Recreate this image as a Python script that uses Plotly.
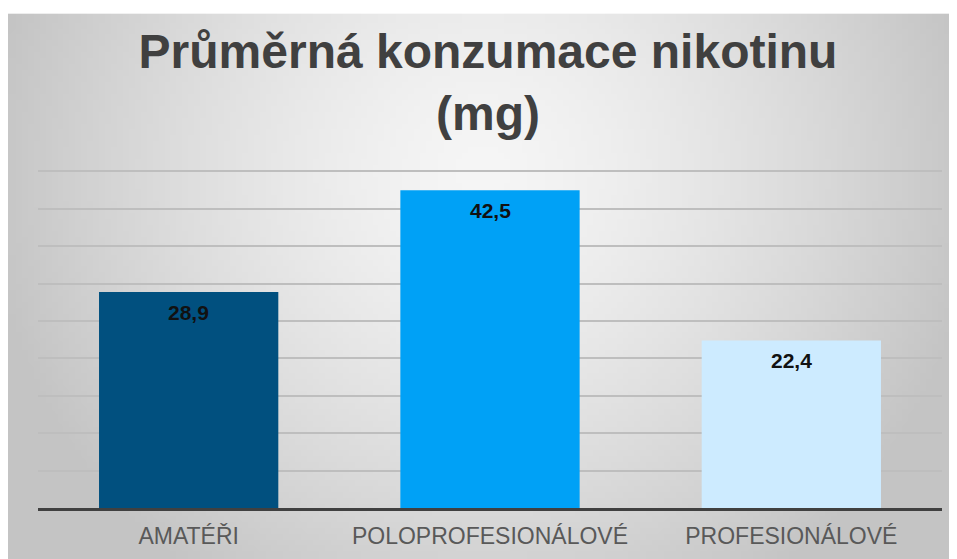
"""Bar chart: average nicotine consumption by player group."""

from __future__ import annotations

import base64
import struct
import zlib

import numpy as np
import plotly.graph_objects as go

categories = ["AMATÉŘI", "POLOPROFESIONÁLOVÉ", "PROFESIONÁLOVÉ"]
values = [28.9, 42.5, 22.4]
value_labels = ["28,9", "42,5", "22,4"]
bar_colors = ["#01507F", "#00A1F6", "#CDEBFF"]

# the page body adds an 8px margin, so the figure is 8px smaller
W, H = 949, 551
Y_MAX = 46.0
PX_PER_UNIT = (500 - 163) / 45
PLOT_L, PLOT_R, PLOT_B = 30, 934, 500
PLOT_T = PLOT_B - Y_MAX * PX_PER_UNIT
BOX_X0, BOX_Y0 = -1, 5


def _gradient_png(w: int = 160, h: int = 92) -> str:
    """Radial light-grey gradient, returned as a PNG data URI."""
    yy, xx = np.mgrid[0:h, 0:w].astype(float)
    dx = (xx / (w - 1) - 0.5) * 2.0
    dy = (yy / (h - 1) - 0.29) * 2.0 * (547 / 952)
    r = np.sqrt(dx**2 + dy**2)
    v = np.clip(246 - 46 * r**1.4, 196, 250).astype(np.uint8)
    raw = b"".join(b"\x00" + row.tobytes() for row in v)

    def chunk(tag: bytes, data: bytes) -> bytes:
        return (struct.pack(">I", len(data)) + tag + data
                + struct.pack(">I", zlib.crc32(tag + data) & 0xFFFFFFFF))

    ihdr = struct.pack(">IIBBBBB", w, h, 8, 0, 0, 0, 0)
    png = (b"\x89PNG\r\n\x1a\n" + chunk(b"IHDR", ihdr)
           + chunk(b"IDAT", zlib.compress(raw, 9)) + chunk(b"IEND", b""))
    return "data:image/png;base64," + base64.b64encode(png).decode()


pw, ph = PLOT_R - PLOT_L, PLOT_B - PLOT_T

fig = go.Figure(
    go.Bar(
        x=categories, y=values, marker=dict(color=bar_colors, line_width=0),
        width=0.595, hoverinfo="x+y",
    )
)

for cat, val, lab in zip(categories, values, value_labels):
    fig.add_annotation(
        x=cat, y=val, text=f"<b>{lab}</b>", showarrow=False,
        yanchor="top", yshift=-7,
        font=dict(family="Liberation Sans, Arial", size=21, color="#111111"),
    )

fig.add_layout_image(
    source=_gradient_png(), xref="paper", yref="paper",
    x=(BOX_X0 - PLOT_L) / pw, y=(PLOT_B - BOX_Y0) / ph,
    sizex=(W + 1 - BOX_X0) / pw, sizey=(H + 1 - BOX_Y0) / ph,
    xanchor="left", yanchor="top", sizing="stretch", layer="below",
)

fig.update_layout(
    width=W, height=H,
    paper_bgcolor="white", plot_bgcolor="rgba(0,0,0,0)",
    margin=dict(l=PLOT_L, r=W - PLOT_R, t=PLOT_T, b=H - PLOT_B, pad=0,
                autoexpand=False),
    title=dict(
        text="<b>Průměrná konzumace nikotinu<br>(mg)</b>",
        x=480 / W, xanchor="center", yref="container",
        y=1 - 60 / H, yanchor="top",
        font=dict(family="Liberation Sans, Arial", size=48, color="#404040"),
    ),
    showlegend=False,
    bargap=0.4,
)
fig.update_xaxes(
    showline=True, linecolor="#404040", linewidth=3, automargin=False,
    showgrid=False, ticks="", ticklabelstandoff=5,
    tickfont=dict(family="Liberation Sans, Arial", size=23, color="#595959"),
)
fig.update_yaxes(
    range=[0, Y_MAX], dtick=5, showticklabels=False, zeroline=False,
    automargin=False, showgrid=True, gridcolor="#BEBEBE", gridwidth=1.6,
)

fig.write_html("out.html")
